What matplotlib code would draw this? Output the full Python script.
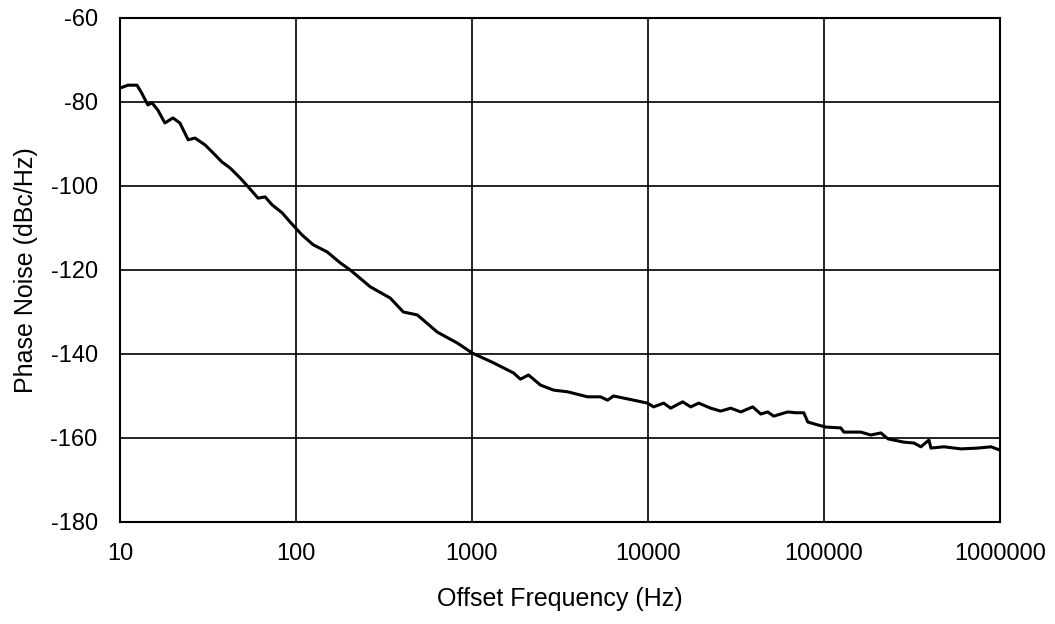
import numpy as np
import matplotlib.pyplot as plt
from matplotlib.ticker import FixedLocator, FixedFormatter, NullLocator

plt.rcParams['font.family'] = ['Liberation Sans', 'DejaVu Sans']
plt.rcParams['axes.unicode_minus'] = False

# offset frequency (Hz) and phase noise (dBc/Hz)
freq = [10, 11.1, 12.5, 13.3, 14.4, 15.2, 16.4, 18.0, 20.0, 21.9, 24.4, 26.7,
        30.4, 33.4, 38.0, 42.2, 48.2, 53.5, 60.9, 66.8, 73.2, 83.5, 92.7,
        108.5, 125.3, 150.4, 178.4, 203.3, 264.2, 343.5, 407.2, 489.2, 635.5,
        826, 1005, 1161, 1324, 1509, 1720, 1885, 2094, 2449, 2904, 3489, 4533,
        5372, 5890, 6370, 7653, 9948, 10760, 12265, 13448, 15740, 17470, 19400,
        22700, 25880, 29510, 33640, 39360, 43700, 47870, 51780, 62210, 69140,
        76740, 80880, 92200, 102400, 124600, 129600, 161900, 184600, 210400,
        230600, 284500, 324300, 355300, 394500, 405000, 480000, 600000,
        750000, 889000, 1000000]
noise = [-76.7, -76.0, -76.0, -77.9, -80.7, -80.2, -81.9, -85.0, -83.8, -85.0,
         -89.0, -88.6, -90.2, -91.9, -94.3, -95.7, -98.1, -100.2, -102.9,
         -102.6, -104.5, -106.4, -108.6, -111.7, -114.0, -115.7, -118.3,
         -120.0, -124.0, -126.7, -130.0, -130.7, -134.8, -137.4, -139.8,
         -141.0, -142.1, -143.3, -144.5, -146.0, -145.0, -147.4, -148.6,
         -149.0, -150.2, -150.2, -151.0, -150.0, -150.7, -151.7, -152.6,
         -151.7, -152.9, -151.4, -152.6, -151.7, -152.9, -153.6, -152.9,
         -153.8, -152.6, -154.3, -153.8, -154.8, -153.8, -154.0, -154.0,
         -156.2, -156.9, -157.4, -157.6, -158.6, -158.6, -159.3, -158.8,
         -160.2, -161.0, -161.2, -162.1, -160.5, -162.4, -162.1, -162.6,
         -162.4, -162.1, -162.9]

xticks = [10, 100, 1000, 10000, 100000, 1000000]
xlabels = ['10', '100', '1000', '10000', '100000', '1000000']
yticks = [-180, -160, -140, -120, -100, -80, -60]

fig = plt.figure(figsize=(10.55, 6.24), dpi=100)
ax = fig.add_axes([0.1137, 0.1635, 0.8342, 0.8077])

ax.plot(freq, noise, color='black', lw=2.2)

ax.set_xscale('log')
ax.set_xlim(10, 1e6)
ax.set_ylim(-180, -60)
ax.xaxis.set_major_locator(FixedLocator(xticks))
ax.xaxis.set_major_formatter(FixedFormatter(xlabels))
ax.xaxis.set_minor_locator(NullLocator())
ax.set_yticks(yticks)

ax.grid(True, color='black', lw=1.2)
ax.tick_params(length=0, labelsize=17)
ax.tick_params(axis='y', pad=16)
ax.tick_params(axis='x', pad=15)
for s in ax.spines.values():
    s.set_linewidth(1.5)

ax.set_xlabel('Offset Frequency (Hz)', fontsize=18, labelpad=16)
ax.set_ylabel('Phase Noise (dBc/Hz)', fontsize=18, labelpad=9)

fig.savefig('out.png', dpi=100)
